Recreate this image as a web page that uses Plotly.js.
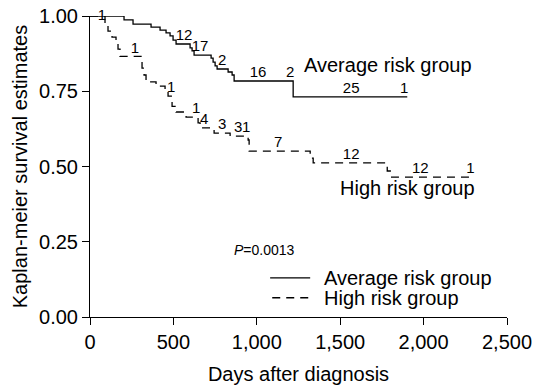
<!DOCTYPE html>
<html><head><meta charset="utf-8">
<script src="https://cdn.plot.ly/plotly-3.0.1.min.js"></script>
<style>html,body{margin:0;padding:0;background:#fff}#chart{width:535px;height:385px}</style>
</head><body><div id="chart"></div>
<script>
// Kaplan-Meier step data (days, survival)
const avgDays = [0, 204, 258, 366, 420, 456, 480, 498, 516, 600, 612, 624, 726, 738, 750, 762, 828, 852, 864, 1218, 1902];
const avgSurv = [1.0, 0.987, 0.973, 0.963, 0.953, 0.944, 0.934, 0.920, 0.907, 0.894, 0.884, 0.870, 0.860, 0.847, 0.834, 0.824, 0.814, 0.804, 0.784, 0.731, 0.731];
const highDays = [0, 90, 108, 132, 156, 168, 180, 312, 324, 336, 396, 450, 468, 492, 516, 576, 648, 660, 744, 840, 948, 954, 1320, 1338, 1782, 1800, 2292];
const highSurv = [1.0, 0.97, 0.95, 0.93, 0.91, 0.89, 0.866, 0.827, 0.804, 0.781, 0.767, 0.754, 0.734, 0.70, 0.681, 0.664, 0.645, 0.628, 0.611, 0.601, 0.588, 0.551, 0.528, 0.512, 0.485, 0.465, 0.465];

// censoring counts shown on the curves
const avgCensorDays = [72, 564, 660, 792, 1008, 1200, 1566, 1884];
const avgCensorText = ['1', '12', '17', '2', '16', '2', '25', '1'];
const highCensorDays = [270, 486, 636, 684, 792, 888, 936, 1128, 1566, 1980, 2280];
const highCensorText = ['1', '1', '1', '4', '3', '3', '1', '7', '12', '12', '1'];

const xTickVals = [0, 500, 1000, 1500, 2000, 2500];
const xTickText = ['0', '500', '1,000', '1,500', '2,000', '2,500'];
const yTickVals = [0, 0.25, 0.5, 0.75, 1.0];
const yTickText = ['0.00', '0.25', '0.50', '0.75', '1.00'];

const seriesNames = ['Average risk group', 'High risk group'];
const pValueText = '<i>P</i>=0.0013';

function survAt(days, surv, d) {
  let s = surv[0];
  for (let i = 0; i < days.length; i++) { if (days[i] <= d) s = surv[i]; }
  return s;
}

const FONT = 'Liberation Sans, Arial, Helvetica, sans-serif';

const traces = [
  {x: avgDays, y: avgSurv, mode: 'lines', name: seriesNames[0], line: {shape: 'hv', color: '#000', width: 1.3}, cliponaxis: false},
  {x: highDays, y: highSurv, mode: 'lines', name: seriesNames[1], line: {shape: 'hv', color: '#000', width: 1.3, dash: '8px,6px'}, cliponaxis: false},
  {x: avgCensorDays, y: avgCensorDays.map(d => survAt(avgDays, avgSurv, d)), mode: 'text', text: avgCensorText,
   textposition: avgCensorDays.map((d, i) => i === 0 ? 'middle center' : 'top center'),
   textfont: {size: 15, color: '#000', family: FONT}, cliponaxis: false, hoverinfo: 'skip'},
  {x: highCensorDays, y: highCensorDays.map(d => survAt(highDays, highSurv, d)), mode: 'text', text: highCensorText,
   textposition: 'top center', textfont: {size: 15, color: '#000', family: FONT}, cliponaxis: false, hoverinfo: 'skip'}
];

const legendY = [0.13, 0.064];
const layout = {
  width: 535, height: 385,
  margin: {l: 90, r: 28, t: 16, b: 68},
  paper_bgcolor: '#fff', plot_bgcolor: '#fff',
  showlegend: false,
  font: {family: FONT, color: '#000', size: 20},
  xaxis: {range: [0, 2500], tickvals: xTickVals, ticktext: xTickText, showline: true, linecolor: '#000', linewidth: 1,
          ticks: 'outside', ticklen: 7, tickcolor: '#000', showgrid: false, zeroline: false,
          tickfont: {size: 20}, title: {text: 'Days after diagnosis', font: {size: 20}, standoff: 14}},
  yaxis: {range: [0, 1], tickvals: yTickVals, ticktext: yTickText, showline: true, linecolor: '#000', linewidth: 1,
          ticks: 'outside', ticklen: 7, tickcolor: '#000', showgrid: false, zeroline: false,
          tickfont: {size: 20}, title: {text: 'Kaplan-meier survival estimates', font: {size: 20}, standoff: 6}},
  annotations: [
    {x: 1272, y: 0.837, xref: 'x', yref: 'y', text: seriesNames[0], showarrow: false, xanchor: 'left', yanchor: 'middle', font: {size: 20}},
    {x: 1488, y: 0.429, xref: 'x', yref: 'y', text: seriesNames[1], showarrow: false, xanchor: 'left', yanchor: 'middle', font: {size: 20}},
    {x: 852, y: 0.222, xref: 'x', yref: 'y', text: pValueText, showarrow: false, xanchor: 'left', yanchor: 'middle', font: {size: 14}},
    {x: 0.557, y: legendY[0], xref: 'paper', yref: 'paper', text: seriesNames[0], showarrow: false, xanchor: 'left', yanchor: 'middle', font: {size: 20}},
    {x: 0.557, y: legendY[1], xref: 'paper', yref: 'paper', text: seriesNames[1], showarrow: false, xanchor: 'left', yanchor: 'middle', font: {size: 20}}
  ],
  shapes: [
    {type: 'line', xref: 'paper', yref: 'paper', x0: 0.432, x1: 0.528, y0: legendY[0], y1: legendY[0], line: {color: '#000', width: 1.3}},
    {type: 'line', xref: 'paper', yref: 'paper', x0: 0.437, x1: 0.528, y0: legendY[1], y1: legendY[1], line: {color: '#000', width: 1.3, dash: '8px,6px'}}
  ]
};

Plotly.newPlot('chart', traces, layout, {displayModeBar: false, staticPlot: true});
</script>
</body></html>
